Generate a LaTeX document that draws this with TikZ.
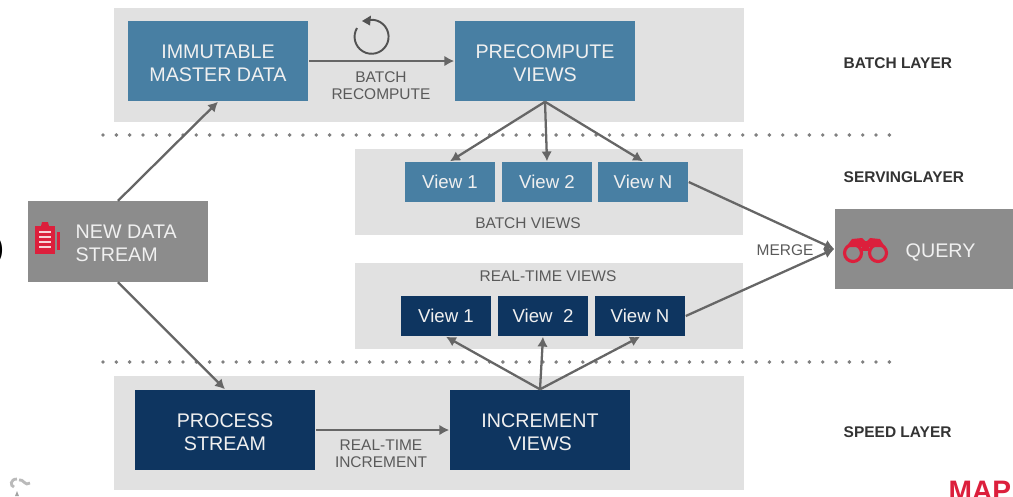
\documentclass[tikz,border=0pt]{standalone}
\usepackage{fontspec}
\setmainfont{Liberation Sans}
\usetikzlibrary{arrows.meta}

\definecolor{panelgrey}{HTML}{E1E1E1}
\definecolor{boxgrey}{HTML}{8C8C8C}
\definecolor{batchblue}{HTML}{487FA3}
\definecolor{speednavy}{HTML}{0E3560}
\definecolor{linegrey}{HTML}{666666}
\definecolor{labelgrey}{HTML}{5A5A5A}
\definecolor{iconred}{HTML}{DC1F3C}

\newcommand{\boxlift}{\rule{0pt}{5.1pt}}

\tikzset{
    panel/.style={fill=panelgrey, minimum width=#1, anchor=north west, inner sep=0pt},
    mainbox/.style={minimum width=1.8cm, minimum height=0.8cm, text=white!94!black, align=center, font=\fontsize{5.6}{6.6}\selectfont, inner sep=0pt},
    viewbox/.style={minimum width=0.9cm, minimum height=0.4cm, text=white!94!black, font=\fontsize{5.3}{6}\selectfont, inner sep=0pt},
    flow/.style={-{Latex[length=2.8pt,width=3pt]}, linegrey, line width=0.65pt},
    smalllabel/.style={labelgrey, align=center, font=\fontsize{4.4}{4.8}\selectfont, inner sep=0pt},
    layerlabel/.style={black!80, anchor=west, font=\bfseries\fontsize{4.4}{5}\selectfont, inner sep=0pt},
    boxtext/.style={text=white!94!black, anchor=west, align=left, font=\fontsize{5.6}{6.6}\selectfont, inner sep=0pt},
    rowdots/.style={black!50, line width=1.1pt, line cap=round, dash pattern=on 0pt off 3.79pt}
}

\begin{document}
\begin{tikzpicture}[x=0.01cm, y=-0.01cm]
    \useasboundingbox (0,0) rectangle (1013,496);

    \node[panel=6.29cm, minimum height=1.14cm] (batchpanel) at (113.5,7.5) {};
    \node[panel=3.88cm, minimum height=0.86cm] (servingpanel) at (354.5,148.5) {};
    \node[panel=3.88cm, minimum height=0.86cm] (realtimepanel) at (354.5,262.5) {};
    \node[panel=6.29cm, minimum height=1.14cm] (speedpanel) at (113.5,375.5) {};

    \coordinate (dotsa) at (103,135);
    \coordinate (dotsb) at (890,135);
    \coordinate (dotsc) at (103,362);
    \coordinate (dotsd) at (890,362);
    \draw[rowdots] (dotsa) -- (dotsb);
    \draw[rowdots] (dotsc) -- (dotsd);

    \node[mainbox, fill=batchblue] (master) at (218,61) {\boxlift IMMUTABLE\\MASTER DATA};
    \node[mainbox, fill=batchblue] (precompute) at (545,61) {\boxlift PRECOMPUTE\\VIEWS};
    \node[mainbox, fill=speednavy] (process) at (225,430) {\boxlift PROCESS\\STREAM};
    \node[mainbox, fill=speednavy] (increment) at (540,430) {\boxlift INCREMENT\\VIEWS};

    \node[viewbox, fill=batchblue] (batcha) at (450,182) {View 1};
    \node[viewbox, fill=batchblue] (batchb) at (547,182) {View 2};
    \node[viewbox, fill=batchblue] (batchn) at (643,182) {View N};
    \node[viewbox, fill=speednavy] (reala) at (446,316) {View 1};
    \node[viewbox, fill=speednavy] (realb) at (543,316) {View~~2};
    \node[viewbox, fill=speednavy] (realn) at (640,316) {View N};

    \node[mainbox, fill=boxgrey] (stream) at (118,241.5) {};
    \node[mainbox, fill=boxgrey, minimum width=1.78cm] (query) at (924,249) {};
    \node[boxtext] (streamtext) at (75,243) {NEW DATA\\STREAM};
    \node[boxtext] (querytext) at (905,252) {QUERY};

    \draw[flow] (stream.north) -- (master.south);
    \draw[flow] (stream.south) -- (process.north);
    \draw[flow] (master.east) -- (precompute.west);
    \draw[flow] (process.east) -- (increment.west);
    \draw[flow] (precompute.south) -- (batcha.north);
    \draw[flow] (precompute.south) -- (batchb.north);
    \draw[flow] (precompute.south) -- (batchn.north);
    \draw[flow] (increment.north) -- (reala.south);
    \draw[flow] (increment.north) -- (realb.south);
    \draw[flow] (increment.north) -- (realn.south);
    \draw[flow] (batchn.east) -- (query.west);
    \draw[flow] (realn.east) -- (query.west);

    \node[smalllabel] (recompute) at (381,86) {BATCH\\RECOMPUTE};
    \node[smalllabel] (realincrement) at (381,454) {REAL-TIME\\INCREMENT};
    \node[smalllabel] (batchviews) at (528,223) {BATCH VIEWS};
    \node[smalllabel] (realviews) at (548,276) {REAL-TIME VIEWS};
    \node[smalllabel] (merge) at (785,250) {MERGE};

    \node[layerlabel] (batchlayer) at (843,63) {BATCH LAYER};
    \node[layerlabel] (servinglayer) at (843,177) {SERVINGLAYER};
    \node[layerlabel] (speedlayer) at (843,432) {SPEED LAYER};

    \draw[linegrey!80!black, line width=0.55pt] (357,28) arc[start angle=211, end angle=-100, radius=17];
    \fill[linegrey!80!black] (362,21) -- (371,15.5) -- (370,25.5) -- cycle;

    \fill[iconred] (35,226) rectangle (55,254);
    \fill[iconred] (41,226) -- (42,222) -- (48,222) -- (49,226) -- cycle;
    \fill[iconred] (57,232) rectangle (60,250);
    \foreach \y in {232,237,242,247}
        \draw[white!80!iconred, line width=0.3pt] (39,\y) -- (51,\y);

    \draw[iconred, line width=0.9pt] (853,253) circle (8.5);
    \draw[iconred, line width=0.9pt] (878,253) circle (8.5);
    \fill[iconred] (846,247) -- (852,239) -- (862,238) -- (865,241) -- (867,241) -- (870,238) -- (880,239) -- (885,247) -- cycle;
    \fill[iconred] (862,246) rectangle (869,251);

    \node[inner sep=0pt, font=\fontsize{9}{10}\selectfont] (leftcut) at (-1,250) {)};
    \node[inner sep=0pt, anchor=base west, iconred, font=\bfseries\fontsize{8}{9}\selectfont] (logo) at (948,500) {MAP};
    \draw[linegrey!45, line width=0.8pt] (17,479) .. controls (10,479) and (10,486) .. (14,487) (19,480) .. controls (23,478) and (25,487) .. (30,483);
    \fill[linegrey!60] (15,496) -- (17,491) -- (19,496) -- cycle;
\end{tikzpicture}
\end{document}
